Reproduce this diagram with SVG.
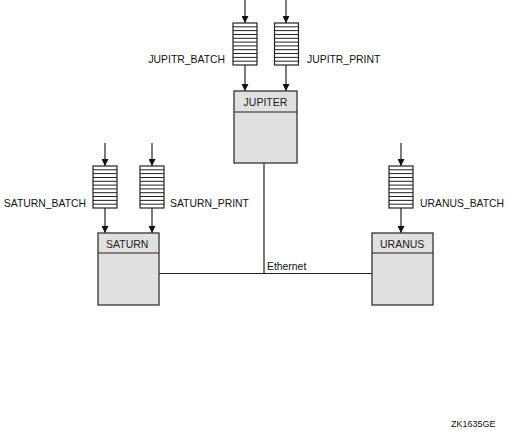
<svg xmlns="http://www.w3.org/2000/svg" xmlns:xlink="http://www.w3.org/1999/xlink" width="511" height="433" viewBox="0 0 511 433">
<style>
.q{fill:#fff;stroke:#222;stroke-width:1.2}
.ql{stroke:#222;stroke-width:1}
.box{fill:#e0e0e0;stroke:#333;stroke-width:1.3}
.ln{stroke:#222;stroke-width:1.2;fill:none}
.t{font-family:"Liberation Sans",Arial,sans-serif;font-size:10.4px;fill:#111}
.hd{font-family:"Liberation Sans",Arial,sans-serif;font-size:10.5px;fill:#222}
</style>
<defs>
<marker id="arr" viewBox="0 0 10 10" refX="10" refY="5" markerWidth="9" markerHeight="7" markerUnits="userSpaceOnUse" orient="auto">
<path d="M0,0 L10,5 L0,10 Z" fill="#111"/>
</marker>
<g id="queue">
<rect class="q" x="0" y="0" width="24" height="42"/>
<path class="ql" d="M0,3.8H24M0,7.6H24M0,11.5H24M0,15.3H24M0,19.1H24M0,22.9H24M0,26.7H24M0,30.5H24M0,34.4H24M0,38.2H24"/>
</g>
</defs>
<g id="connectors">
<path class="ln" d="M245,0V23" marker-end="url(#arr)"/>
<path class="ln" d="M286,0V23" marker-end="url(#arr)"/>
<path class="ln" d="M245,65V91" marker-end="url(#arr)"/>
<path class="ln" d="M286,65V91" marker-end="url(#arr)"/>
<path class="ln" d="M105,143V166" marker-end="url(#arr)"/>
<path class="ln" d="M152,143V166" marker-end="url(#arr)"/>
<path class="ln" d="M105,208V233" marker-end="url(#arr)"/>
<path class="ln" d="M152,208V233" marker-end="url(#arr)"/>
<path class="ln" d="M401,143V166" marker-end="url(#arr)"/>
<path class="ln" d="M401,208V233" marker-end="url(#arr)"/>
<path class="ln" d="M159,273.5H372M264,163V273.5"/>
<text class="t" x="267" y="270">Ethernet</text>
</g>
<g id="q-jupitr-batch">
<use xlink:href="#queue" x="233" y="23"/>
<text class="t" x="225" y="63" text-anchor="end">JUPITR_BATCH</text>
</g>
<g id="q-jupitr-print">
<use xlink:href="#queue" x="274.5" y="23"/>
<text class="t" x="307" y="63">JUPITR_PRINT</text>
</g>
<g id="q-saturn-batch">
<use xlink:href="#queue" x="93" y="166"/>
<text class="t" x="86" y="207" text-anchor="end">SATURN_BATCH</text>
</g>
<g id="q-saturn-print">
<use xlink:href="#queue" x="140" y="166"/>
<text class="t" x="170" y="207">SATURN_PRINT</text>
</g>
<g id="q-uranus-batch">
<use xlink:href="#queue" x="389" y="166"/>
<text class="t" x="420" y="207">URANUS_BATCH</text>
</g>
<g id="jupiter">
<rect class="box" x="234" y="91" width="63" height="72"/>
<line class="ln" x1="234" y1="112" x2="297" y2="112"/>
<text class="hd" x="265.5" y="106" text-anchor="middle">JUPITER</text>
</g>
<g id="saturn">
<rect class="box" x="98" y="233" width="61" height="72"/>
<line class="ln" x1="98" y1="253" x2="159" y2="253"/>
<text class="hd" x="106" y="248">SATURN</text>
</g>
<g id="uranus">
<rect class="box" x="372" y="233" width="61" height="72"/>
<line class="ln" x1="372" y1="253" x2="433" y2="253"/>
<text class="hd" x="380" y="248">URANUS</text>
</g>
<text class="t" x="451" y="427" style="font-size:9px">ZK1635GE</text>
</svg>
